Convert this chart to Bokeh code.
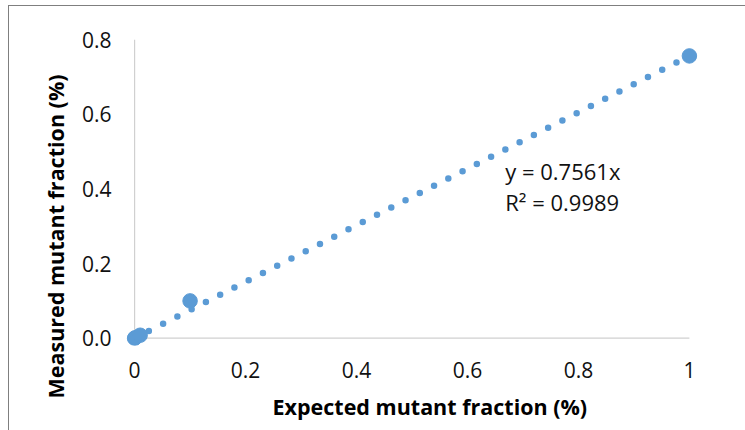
from bokeh.plotting import figure
from bokeh.models import Range1d, FixedTicker, Label, Title
from bokeh.embed import file_html
from bokeh.resources import INLINE

# ---- data ----
expected = [0.0, 0.001, 0.01, 0.1, 1.0]
measured = [0.0, 0.001, 0.008, 0.1, 0.756]
slope = 0.7561
r2 = 0.9989
x_ticks = [0, 0.2, 0.4, 0.6, 0.8, 1]
x_tick_labels = ["0", "0.2", "0.4", "0.6", "0.8", "1"]
y_ticks = [0.0, 0.2, 0.4, 0.6, 0.8]
y_tick_labels = ["0.0", "0.2", "0.4", "0.6", "0.8"]
x_title = "Expected mutant fraction (%)"
y_title = "Measured mutant fraction (%)"

BLUE = "#5B9BD5"
FONT = "Open Sans"

p = figure(width=736, height=424, output_backend="svg", toolbar_location=None,
           x_range=Range1d(-0.02, 1.02), y_range=Range1d(-0.0195, 0.8),
           min_border_left=114, min_border_right=45, min_border_top=33, min_border_bottom=85,
           frame_width=577, frame_height=306)
p.styles = {"border-left": "1px solid #7f7f7f", "border-top": "1px solid #7f7f7f",
            "margin-left": "8px", "margin-top": "5px"}
p.outline_line_color = None
p.grid.visible = False
p.background_fill_color = "white"
p.border_fill_color = "white"

# axis lines drawn at the data origin (Excel style)
p.segment(x0=[0, 0], y0=[0, 0], x1=[max(x_ticks), 0], y1=[0, max(y_ticks)],
          line_color="#d0d0d0", line_width=1.2)

# trendline (dotted)
xs_trend = [0.0, 1.0]
ys_trend = [slope * v for v in xs_trend]
p.line(xs_trend, ys_trend, line_color=BLUE, line_width=6.5, line_dash="0 16", line_cap="round")

# data points
p.scatter(expected, measured, size=14.5, color=BLUE, line_color=BLUE)

for ax in (p.xaxis[0], p.yaxis[0]):
    ax.axis_line_color = None
    ax.major_tick_line_color = None
    ax.minor_tick_line_color = None
    ax.major_tick_out = 0
    ax.major_label_text_font = FONT
    ax.major_label_text_font_size = "21px"
    ax.major_label_text_color = "#111111"

p.xaxis.ticker = FixedTicker(ticks=x_ticks)
p.xaxis.major_label_overrides = {t: l for t, l in zip(x_ticks, x_tick_labels)}
p.yaxis.ticker = FixedTicker(ticks=y_ticks)
p.yaxis.major_label_overrides = {t: l for t, l in zip(y_ticks, y_tick_labels)}
p.xaxis.major_label_standoff = 16
p.yaxis.major_label_standoff = 12

# axis titles (placed like Excel's, slightly off the plot-area centre)
p.add_layout(Title(text=x_title, align="left", offset=149, standoff=18,
                   text_font=FONT, text_font_style="bold", text_font_size="21.5px",
                   text_color="#000000"), "below")
p.add_layout(Title(text=y_title, align="left", offset=-53, standoff=17,
                   text_font=FONT, text_font_style="bold", text_font_size="21.5px",
                   text_color="#000000"), "left")

# trendline equation
p.add_layout(Label(x=0.668, y=0.4467, text=f"y = {slope}x", text_font=FONT,
                   text_font_size="22px", text_baseline="middle", text_color="#111111"))
p.add_layout(Label(x=0.668, y=0.366, text=f"R\u00b2 = {r2}", text_font=FONT,
                   text_font_size="22px", text_baseline="middle", text_color="#111111"))

open("out.html", "w").write(file_html(p, INLINE))
